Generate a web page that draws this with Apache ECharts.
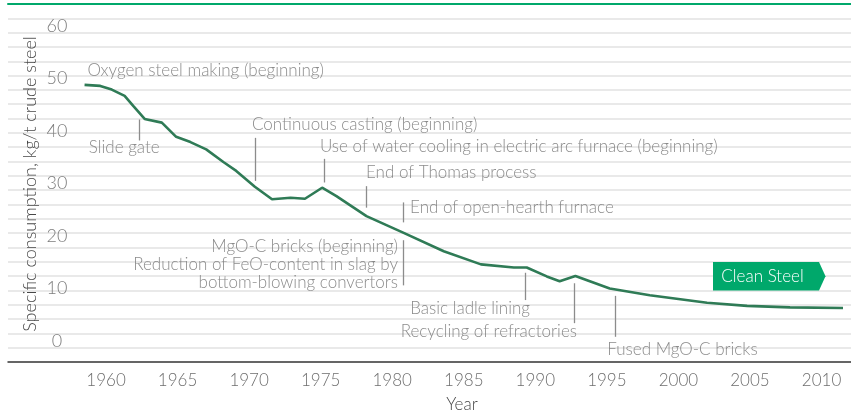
<!DOCTYPE html>
<html>
<head>
<meta charset="utf-8">
<script src="https://cdn.jsdelivr.net/npm/echarts@6/dist/echarts.min.js"></script>
<style>
  html, body { margin: 0; padding: 0; background: #fff; }
  #chart { width: 851px; height: 417px; }
</style>
</head>
<body>
<div id="chart"></div>
<script>
// Refractory consumption per tonne of crude steel, 1958-2011
const years = [1958.5, 1959.6, 1960.4, 1961.3, 1961.9, 1962.7, 1963.9, 1964.9, 1965.9, 1967.0,
               1968.2, 1969.1, 1970.4, 1971.6, 1972.9, 1973.9, 1975.1, 1976.1, 1978.2, 1980.8,
               1983.6, 1986.2, 1988.5, 1989.4, 1990.8, 1991.7, 1992.8, 1995.2, 1998.0, 2000.0,
               2002.0, 2004.8, 2007.8, 2011.5];
const consumption = [48.8, 48.6, 47.9, 46.7, 44.8, 42.3, 41.6, 38.9, 37.9, 36.5,
                     34.1, 32.4, 29.4, 27.0, 27.3, 27.1, 29.2, 27.6, 23.8, 20.6,
                     17.1, 14.6, 14.0, 14.0, 12.3, 11.4, 12.4, 10.0, 8.7, 8.0,
                     7.3, 6.7, 6.4, 6.3];

const yearTicks = [1960, 1965, 1970, 1975, 1980, 1985, 1990, 1995, 2000, 2005, 2010];
const valueTicks = [0, 10, 20, 30, 40, 50, 60];

// Milestones: label text, label anchor [year, value], leader line year and value span
const noteText = [
  'Oxygen steel making (beginning)',
  'Slide gate',
  'Continuous casting (beginning)',
  'Use of water cooling in electric arc furnace (beginning)',
  'End of Thomas process',
  'End of open-hearth furnace',
  'MgO-C bricks (beginning)\nReduction of FeO-content in slag by\nbottom-blowing convertors',
  'Basic ladle lining',
  'Recycling of refractories',
  'Fused MgO-C bricks'
];
const noteAnchor = [
  [1958.7, 51.6], [1958.8, 36.8], [1970.2, 41.3], [1974.95, 37.1], [1978.17, 32.1],
  [1981.25, 25.4], [1980.4, 14.6], [1985.44, 6.2], [1986.75, 1.8], [1995.03, -1.6]
];
const noteAlign = ['left', 'left', 'left', 'left', 'left', 'left', 'right', 'center', 'center', 'left'];
const leaderYear = [null, 1962.3, 1970.4, 1975.26, 1978.17, 1980.8, 1980.79, 1989.3, 1992.7, 1995.57];
const leaderFrom = [null, 42.2, 38.7, 34.7, 29.5, 26.4, 19.2, 13.0, 11.0, 8.6];
const leaderTo   = [null, 38.2, 30.5, 30.2, 25.4, 22.6, 10.6, 7.8, 3.4, 0.8];

const FONT = 'Lato';
const WEIGHT = 300;
const chart = echarts.init(document.getElementById('chart'), null, { renderer: 'canvas' });

const lineData = years.map((y, i) => [y, consumption[i]]);
const noteData = noteText.map((t, i) => ({
  value: noteAnchor[i],
  label: { formatter: t, align: noteAlign[i] }
}));
const leaders = [];
leaderYear.forEach((y, i) => {
  if (y === null) return;
  leaders.push([{ coord: [y, leaderFrom[i]] }, { coord: [y, leaderTo[i]] }]);
});

chart.setOption({
  animation: false,
  grid: { left: 8, right: 0, top: 4, bottom: 55, containLabel: false, outerBoundsMode: 'none' },
  xAxis: [
    {
      type: 'value', min: 1953.15, max: 2012.06, z: 5,
      axisLine: { show: true, onZero: false, lineStyle: { color: '#3a3a3a', width: 1.5 } },
      axisTick: { show: false },
      splitLine: { show: false },
      axisLabel: {
        customValues: yearTicks, color: '#6e6e6e', fontSize: 17, fontFamily: FONT,
        fontWeight: WEIGHT, margin: 10, formatter: v => String(v)
      }
    },
    {
      type: 'value', position: 'top', min: 1953.15, max: 2012.06, z: 5,
      axisLine: { show: true, onZero: false, lineStyle: { color: '#00a86b', width: 2 } },
      axisTick: { show: false }, axisLabel: { show: false }, splitLine: { show: false }
    }
  ],
  yAxis: [
    {
      type: 'value', min: -4, max: 64.2,
      axisLine: { show: false }, axisTick: { show: false }, splitLine: { show: false },
      axisLabel: {
        customValues: valueTicks, inside: true, align: 'center', margin: 49,
        color: '#7e7e7e', fontSize: 18, fontFamily: FONT, fontWeight: WEIGHT
      }
    },
    {
      type: 'value', min: 0, max: 25, interval: 1, position: 'left',
      axisLine: { show: false }, axisTick: { show: false }, axisLabel: { show: false },
      splitLine: { show: true, lineStyle: { color: '#e2e2e2', width: 1.5 } }
    }
  ],
  series: [
    {
      type: 'line', name: 'consumption', data: lineData, xAxisIndex: 0, yAxisIndex: 0,
      symbol: 'none', z: 4,
      lineStyle: { color: '#2f7b56', width: 2.6 },
      markLine: {
        silent: true, symbol: ['none', 'none'], label: { show: false },
        lineStyle: { color: '#8c8c8c', width: 1.3, type: 'solid' },
        emphasis: { disabled: true },
        data: leaders
      }
    },
    {
      type: 'scatter', name: 'notes', data: noteData, xAxisIndex: 0, yAxisIndex: 0,
      symbolSize: 0, silent: true, z: 3,
      label: {
        show: true, position: 'inside', verticalAlign: 'middle',
        color: '#6e6e6e', fontSize: 17, fontFamily: FONT, fontWeight: WEIGHT, lineHeight: 18.3
      }
    }
  ],
  graphic: [
    {
      type: 'text', x: 30, y: 184, rotation: Math.PI / 2, z: 11,
      style: { text: 'Specific consumption, kg/t crude steel', fill: '#474747', fontSize: 18,
               fontFamily: FONT, fontWeight: WEIGHT, align: 'center', verticalAlign: 'middle' }
    },
    {
      type: 'polygon',
      shape: { points: [[713, 262], [819, 262], [825.5, 276.3], [819, 290.6], [713, 290.6]] },
      style: { fill: '#00a86b' }, z: 10
    },
    {
      type: 'text', x: 762.5, y: 276.3, z: 11,
      style: { text: 'Clean Steel', fill: '#ffffff', fontSize: 17, fontFamily: FONT,
               fontWeight: WEIGHT, align: 'center', verticalAlign: 'middle' }
    },
    {
      type: 'text', x: 462, y: 405, z: 11,
      style: { text: 'Year', fill: '#474747', fontSize: 17, fontFamily: FONT,
               fontWeight: WEIGHT, align: 'center', verticalAlign: 'middle' }
    }
  ]
});
</script>
</body>
</html>
